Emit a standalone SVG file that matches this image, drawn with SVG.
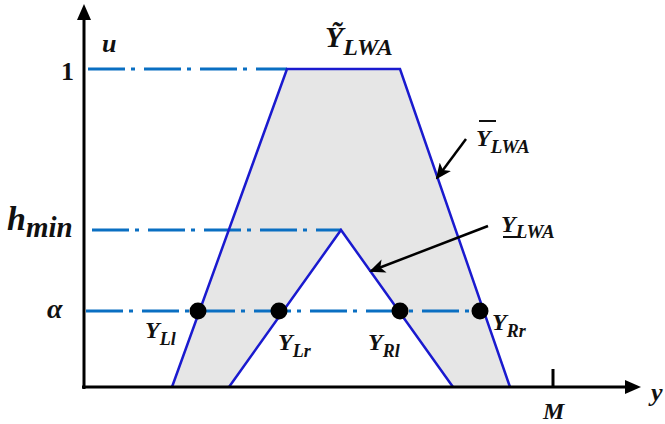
<svg xmlns="http://www.w3.org/2000/svg" width="665" height="424" viewBox="0 0 665 424">
<style>
.lbl{font-family:"Liberation Serif","DejaVu Serif",serif;font-weight:bold;font-style:italic;fill:#111}
.up{font-family:"Liberation Serif","DejaVu Serif",serif;font-weight:bold;fill:#111}
.dd{stroke:#0A6FC2;stroke-width:3;stroke-dasharray:37 6 4 9;fill:none}
.mf{stroke:#1A1ACF;stroke-width:2.5;fill:none;stroke-linejoin:miter}
.ax{stroke:#000;stroke-width:3;fill:none}
.ar{stroke:#000;stroke-width:2.5;fill:none}
</style>
<defs>
<marker id="ahs" markerWidth="16" markerHeight="14" refX="14" refY="7" orient="auto" markerUnits="userSpaceOnUse">
<path d="M0,0 L16,7 L0,14 L4,7 Z" fill="#000"/>
</marker>
</defs>
<g id="fou">
<path d="M172,387 L287,69 L400,69 L510,387 Z M229,387 L341,230 L453,387 Z" fill="#E6E6E6" fill-rule="evenodd" stroke="none"/>
</g>
<g id="guides">
<line class="dd" x1="88" y1="69" x2="287" y2="69"/>
<line class="dd" x1="92" y1="230" x2="341" y2="230"/>
<line class="dd" x1="86" y1="311" x2="480" y2="311"/>
</g>
<g id="umf"><path class="mf" d="M172,387 L287,69 L400,69 L510,387"/></g>
<g id="lmf"><path class="mf" d="M229,387 L341,230 L453,387"/></g>
<g id="axes">
<line class="ax" x1="84" y1="389" x2="84" y2="14"/>
<path d="M84,4 L77,20 L91,20 Z" fill="#000"/>
<line class="ax" x1="82" y1="387" x2="628" y2="387"/>
<path d="M641,387 L625,380 L625,394 Z" fill="#000"/>
<line class="ax" x1="553" y1="369" x2="553" y2="387"/>
</g>
<g id="connectors">
<line class="ar" x1="466" y1="139" x2="437" y2="178" marker-end="url(#ahs)"/>
<line class="ar" x1="488" y1="226" x2="371" y2="271" marker-end="url(#ahs)"/>
</g>
<g id="dots">
<circle cx="198" cy="311" r="8.5" fill="#000"/>
<circle cx="279" cy="311" r="8.5" fill="#000"/>
<circle cx="400" cy="311" r="8.5" fill="#000"/>
<circle cx="480" cy="311" r="8.5" fill="#000"/>
</g>
<g id="labels">
<text class="lbl" x="102" y="52" font-size="26">u</text>
<text class="up" x="61" y="80" font-size="26">1</text>
<text class="lbl" x="7" y="230" font-size="34">h<tspan font-size="29" dy="7">min</tspan></text>
<text class="lbl" x="47" y="318" font-size="28">α</text>
<text class="lbl" x="543" y="419" font-size="24">M</text>
<text class="lbl" x="651" y="401" font-size="26">y</text>
<text class="lbl" x="325" y="47" font-size="30">Ỹ<tspan font-size="24" dy="8">LWA</tspan></text>
<text class="lbl" x="476" y="146" font-size="24">Y<tspan font-size="19" dy="7">LWA</tspan></text>
<line x1="479" y1="121" x2="496" y2="121" stroke="#111" stroke-width="2"/>
<text class="lbl" x="501" y="232" font-size="24">Y<tspan font-size="19" dy="6">LWA</tspan></text>
<line x1="503" y1="237" x2="521" y2="237" stroke="#111" stroke-width="2"/>
<text class="lbl" x="145" y="338" font-size="24">Y<tspan font-size="18" dy="7">Ll</tspan></text>
<text class="lbl" x="278" y="350" font-size="24">Y<tspan font-size="18" dy="7">Lr</tspan></text>
<text class="lbl" x="368" y="350" font-size="24">Y<tspan font-size="18" dy="7">Rl</tspan></text>
<text class="lbl" x="492" y="330" font-size="24">Y<tspan font-size="18" dy="7">Rr</tspan></text>
</g>
</svg>
